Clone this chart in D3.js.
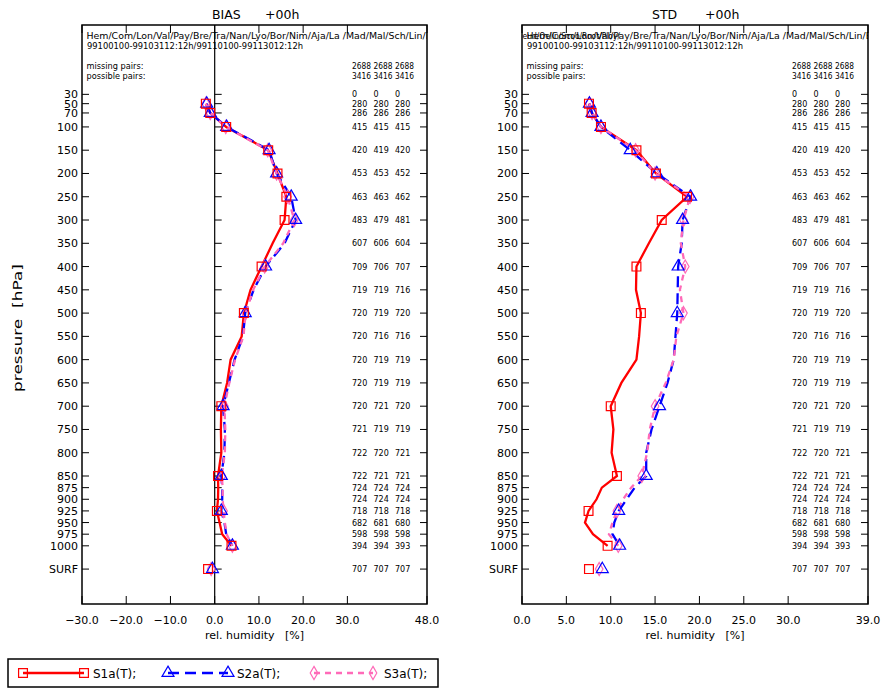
<!DOCTYPE html>
<html><head><meta charset="utf-8">
<script src="https://cdn.jsdelivr.net/npm/d3@7"></script>
<style>body{margin:0;background:#fff}svg{display:block}text{font-family:"DejaVu Sans",sans-serif}</style>
</head><body><svg id="c" width="882" height="689"></svg>
<script>
// ---- data ----
const levels = [50,70,100,150,200,250,300,350,400,450,500,550,600,650,700,750,800,850,875,900,925,950,975,1000];
const markerLevels = [50,70,100,150,200,250,300,400,500,700,850,925,1000];
const tickLevels = [30,50,70,100,150,200,250,300,350,400,450,500,550,600,650,700,750,800,850,875,900,925,950,975,1000,"SURF"];
const surfPos = 1050;

const biasS1 = [-2.0,-1.0,2.6,12.1,14.2,16.2,15.8,13.1,10.6,8.1,6.6,6.1,3.6,2.8,1.5,1.4,1.5,0.75,0.8,0.75,0.5,1.1,1.7,3.8];
const biasS2 = [-1.8,-1.0,2.7,12.3,14.0,17.3,18.3,15.8,11.5,8.8,6.9,6.4,4.5,3.2,1.9,2.3,2.2,1.5,1.7,1.7,1.5,2.2,2.6,4.0];
const biasS3 = [-2.0,-1.0,2.5,12.0,14.0,16.5,18.0,15.5,11.3,8.7,7.0,6.5,4.6,3.3,2.2,2.4,2.3,1.6,1.8,1.8,2.0,2.3,2.7,4.0];
const biasSurf = [-1.5,-0.5,-0.8];

const stdS1 = [7.55,7.85,8.9,12.9,15.1,18.6,15.75,14.3,12.9,12.85,13.4,13.2,12.9,11.2,10.0,10.3,10.1,10.7,9.0,8.4,7.5,7.1,8.0,9.65];
const stdS2 = [7.6,7.9,8.9,12.2,15.2,19.0,18.1,18.0,17.6,17.55,17.5,17.3,17.1,16.4,15.5,14.6,14.0,14.0,12.7,11.8,10.9,10.4,10.2,11.0];
const stdS3 = [7.6,7.9,8.9,12.8,15.0,18.95,18.2,17.9,18.4,17.8,18.2,17.4,17.1,16.2,15.0,14.4,14.1,13.5,12.3,11.4,10.7,10.2,9.8,10.85];
const stdSurf = [7.55,9.05,8.7];

const counts1 = [0,280,286,415,420,453,463,483,607,709,719,720,720,720,720,720,721,722,722,724,724,718,682,598,394,707];
const counts2 = [0,280,286,415,419,453,463,479,606,706,719,719,716,719,719,721,719,720,721,724,724,718,681,598,394,707];
const counts3 = [0,280,286,415,420,452,462,481,604,707,716,720,716,719,719,720,719,721,721,724,724,718,680,598,393,707];
const missingPairs = [2688,2688,2688];
const possiblePairs = [3416,3416,3416];

const biasTicks = [-30,-20,-10,0,10,20,30,48];
const stdTicks = [0,5,10,15,20,25,30,39];
const stations = "Hem/Com/Lon/Val/Pay/Bre/Tra/Nan/Lyo/Bor/Nim/Aja/La /Mad/Mal/Sch/Lin/Es";
const overlayText = "ra/Jeud/Oelin/Scoo/Root/Ploy/";
const period = "99100100-99103112:12h/99110100-99113012:12h";
const seriesNames = ["S1a(T);","S2a(T);","S3a(T);"];
const colors = ["#ff0000","#0000ff","#ff6ab8"];
const dashes = [null,"11,6","6,5"];
const symbols = [d3.symbolSquare, d3.symbolTriangle, d3.symbolDiamond];

// ---- drawing ----
const svg = d3.select("#c");
const yTop = 25, yBot = 604;
const y = d3.scaleLinear().domain([-119,1125]).range([yTop,yBot]);
const ypos = l => y(l === "SURF" ? surfPos : l);

function marker(g, sym, cx, cy, col){
  const sizes = [78, 62, 50];
  const i = symbols.indexOf(sym);
  g.append("path").attr("d", d3.symbol().type(sym).size(sizes[i])())
    .attr("transform", `translate(${cx},${cy})`)
    .attr("fill","none").attr("stroke",col).attr("stroke-width",1.2);
}

function panel(opt){
  const {x0,x1,domain,ticks,title,series,surf,zeroLine,ylabel,id,overlay} = opt;
  const x = d3.scaleLinear().domain(domain).range([x0,x1]);
  const g = svg.append("g");
  g.append("clipPath").attr("id",id).append("rect").attr("x",x0).attr("y",yTop).attr("width",x1-x0).attr("height",yBot-yTop);

  // title
  g.append("text").attr("x",x0+130).attr("y",19).attr("font-size",12.5).text(title);
  g.append("text").attr("x",x0+183).attr("y",19).attr("font-size",12.5).text("+00h");

  // header text
  const hd = g.append("g").attr("clip-path",`url(#${id})`).attr("font-size",8.5);
  hd.append("text").attr("x",x0+4.5).attr("y",39).attr("textLength",350).attr("lengthAdjust","spacingAndGlyphs")
    .attr("xml:space","preserve").text(stations);
  if(overlay){
    hd.append("text").attr("x",x0-12).attr("y",39).attr("textLength",110).attr("lengthAdjust","spacingAndGlyphs").text(overlayText);
  }
  hd.append("text").attr("x",x0+5).attr("y",49).attr("textLength",216).attr("lengthAdjust","spacingAndGlyphs").text(period);
  hd.append("text").attr("x",x0+4.5).attr("y",69).attr("textLength",57).attr("lengthAdjust","spacingAndGlyphs").text("missing pairs:");
  hd.append("text").attr("x",x0+4.5).attr("y",79).attr("textLength",59).attr("lengthAdjust","spacingAndGlyphs").text("possible pairs:");
  const colX = [x0+270, x0+291.5, x0+313];
  missingPairs.forEach((v,i)=>hd.append("text").attr("x",x0+270+i*21.5).attr("y",69).attr("textLength",19).attr("lengthAdjust","spacingAndGlyphs").text(v));
  possiblePairs.forEach((v,i)=>hd.append("text").attr("x",x0+270+i*21.5).attr("y",79).attr("textLength",19).attr("lengthAdjust","spacingAndGlyphs").text(v));

  // counts
  [counts1,counts2,counts3].forEach((arr,j)=>{
    arr.forEach((v,i)=>{
      g.append("text").attr("x",colX[j]).attr("y",ypos(tickLevels[i])+3).attr("font-size",8).text(v);
    });
  });

  // zero line
  if(zeroLine){
    g.append("line").attr("x1",x(0)).attr("x2",x(0)).attr("y1",yTop).attr("y2",yBot).attr("stroke","#000").attr("stroke-width",1.2);
    tickLevels.forEach(l=>g.append("line").attr("x1",x(0)).attr("x2",x(0)+7).attr("y1",ypos(l)).attr("y2",ypos(l)).attr("stroke","#000").attr("stroke-width",1));
  }

  // frame
  g.append("rect").attr("x",x0).attr("y",yTop).attr("width",x1-x0).attr("height",yBot-yTop)
    .attr("fill","none").attr("stroke","#000").attr("stroke-width",1.5);

  // y ticks and labels
  tickLevels.forEach(l=>{
    const yy = ypos(l);
    g.append("line").attr("x1",x0).attr("x2",x0+7).attr("y1",yy).attr("y2",yy).attr("stroke","#000").attr("stroke-width",1);
    g.append("line").attr("x1",x1-7).attr("x2",x1).attr("y1",yy).attr("y2",yy).attr("stroke","#000").attr("stroke-width",1);
    g.append("text").attr("x",x0-4).attr("y",yy+4).attr("text-anchor","end").attr("font-size",11).text(l);
  });

  // x ticks and labels
  ticks.forEach(t=>{
    const xx = x(t);
    g.append("line").attr("x1",xx).attr("x2",xx).attr("y1",yTop).attr("y2",yTop+8).attr("stroke","#000").attr("stroke-width",1);
    g.append("line").attr("x1",xx).attr("x2",xx).attr("y1",yBot-8).attr("y2",yBot).attr("stroke","#000").attr("stroke-width",1);
    g.append("text").attr("x",xx).attr("y",624).attr("text-anchor","middle").attr("font-size",11)
      .text(d3.format(".1f")(t).replace("-","\u2212"));
  });
  g.append("text").attr("x",(x0+x1)/2).attr("y",639).attr("text-anchor","middle").attr("font-size",11)
    .attr("xml:space","preserve").text("rel. humidity   [%]");

  if(ylabel){
    g.append("text").attr("transform",`translate(22,328) rotate(-90)`).attr("text-anchor","middle")
      .attr("font-size",11.5).attr("textLength",128).attr("lengthAdjust","spacingAndGlyphs")
      .attr("xml:space","preserve").text("pressure  [hPa]");
  }

  // series
  const line = d3.line().x(d=>x(d[1])).y(d=>y(d[0]));
  series.forEach((vals,k)=>{
    const pts = levels.map((l,i)=>[l,vals[i]]);
    const p = g.append("path").attr("d",line(pts)).attr("fill","none").attr("stroke",colors[k]).attr("stroke-width",2.3);
    if(dashes[k]) p.attr("stroke-dasharray",dashes[k]);
  });
  [2,1,0].forEach(k=>{
    const vals = series[k];
    levels.forEach((l,i)=>{ if(markerLevels.includes(l)) marker(g,symbols[k],x(vals[i]),y(l),colors[k]); });
    marker(g,symbols[k],x(surf[k]),y(surfPos),colors[k]);
  });
}

panel({id:"cpL",x0:82,x1:427,domain:[-30,48],ticks:biasTicks,title:"BIAS",series:[biasS1,biasS2,biasS3],surf:biasSurf,zeroLine:true,ylabel:true,overlay:false});
panel({id:"cpR",x0:522,x1:868,domain:[0,39],ticks:stdTicks,title:"STD",series:[stdS1,stdS2,stdS3],surf:stdSurf,zeroLine:false,ylabel:false,overlay:true});

// legend
const lg = svg.append("g");
lg.append("rect").attr("x",8).attr("y",659).attr("width",430).attr("height",28).attr("fill","none").attr("stroke","#000").attr("stroke-width",1.5);
const legX = [[23,84,93],[168,228,237],[314,373,384]];
seriesNames.forEach((n,k)=>{
  const [a,b,t] = legX[k];
  const ly = 673;
  const l = lg.append("line").attr("x1",a).attr("x2",b).attr("y1",ly).attr("y2",ly).attr("stroke",colors[k]).attr("stroke-width",2.3);
  if(dashes[k]) l.attr("stroke-dasharray",dashes[k]);
  marker(lg,symbols[k],a,ly,colors[k]);
  marker(lg,symbols[k],b,ly,colors[k]);
  lg.append("text").attr("x",t).attr("y",ly+5).attr("font-size",12).text(n);
});
</script></body></html>
